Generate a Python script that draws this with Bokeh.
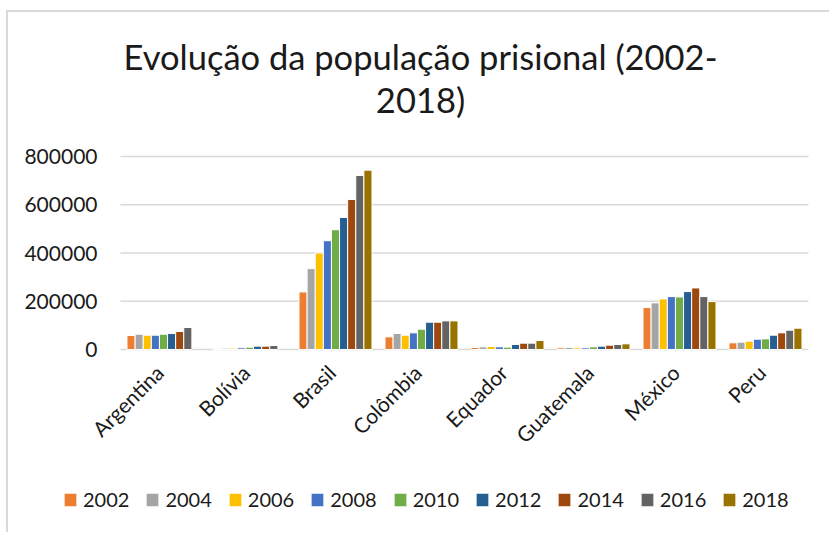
import math
from bokeh.plotting import figure
from bokeh.models import (ColumnDataSource, Range1d, Legend, LegendItem,
                          NumeralTickFormatter, FixedTicker, Label,
                          CustomJSTickFormatter)
from bokeh.transform import dodge
from bokeh.embed import file_html
from bokeh.resources import INLINE

nan = float("nan")

countries = ["Argentina", "Bolívia", "Brasil", "Colômbia", "Equador",
             "Guatemala", "México", "Peru"]
years = ["2002", "2004", "2006", "2008", "2010", "2012", "2014", "2016", "2018"]
yticks = [0, 200000, 400000, 600000, 800000]

v2002 = [58000, 4500, 238600, 52400, 8300, 6900, 173800, 27600]
v2004 = [63400, 5500, 335100, 66200, 11000, 8300, 193100, 30300]
v2006 = [59300, 5500, 400000, 59300, 12400, 6900, 209600, 34500]
v2008 = [59300, 7000, 451000, 69000, 11000, 6900, 219300, 42700]
v2010 = [63400, 9600, 496400, 84100, 9700, 11000, 217900, 44100]
v2012 = [66200, 13800, 547500, 113100, 20700, 13800, 240000, 59300]
v2014 = [74500, 13800, 622000, 113100, 26200, 17900, 255100, 69000]
v2016 = [91000, 16500, 721200, 118600, 26200, 20700, 219300, 80000]
v2018 = [nan, nan, 743300, 118600, 37200, 23400, 198600, 88300]

colors = ["#ED7D31", "#A5A5A5", "#FFC000", "#4472C4", "#70AD47",
          "#255E91", "#9E480E", "#636363", "#997300"]

title1 = "Evolução da população prisional (2002-"
title2 = "2018)"

series = [v2002, v2004, v2006, v2008, v2010, v2012, v2014, v2016, v2018]
n = len(countries)
data = {"xi": list(range(n)), "country": countries}
for y, vals in zip(years, series):
    data["y" + y] = vals
src = ColumnDataSource(data)

FONT = "Lato"
TXT = "#1a1a1a"
GRID = "#d9d9d9"

# layout (pixels) - the frame fills the whole figure
FRAME_W, FRAME_H = 821, 520
CAT_PX = 86            # width of one category slot
LEFT_PAD = 112         # frame left edge -> first category slot
RIGHT_PAD = 21
PLOT_H = 193           # pixel height of the 0..800000 band
ABOVE = 144            # frame top -> 800000 line
BELOW = FRAME_H - ABOVE - PLOT_H
YMAX = yticks[-1]
LABEL_SHIFT = 4 / CAT_PX    # rotated category labels sit a little left

x_range = Range1d(-0.5 - LEFT_PAD / CAT_PX, n - 0.5 + RIGHT_PAD / CAT_PX)
y_range = Range1d(-BELOW * YMAX / PLOT_H, YMAX + ABOVE * YMAX / PLOT_H)

p = figure(frame_width=FRAME_W, frame_height=FRAME_H, x_range=x_range,
           y_range=y_range, output_backend="svg", toolbar_location=None,
           min_border_left=0, min_border_right=0,
           min_border_top=0, min_border_bottom=0)
p.title.visible = False
p.outline_line_color = None
p.grid.visible = False

# horizontal gridlines across the category area only
p.segment(x0=-0.5, x1=n - 0.5, y0=yticks, y1=yticks,
          line_color=GRID, line_width=1.5)

p.yaxis.fixed_location = -0.5
p.yaxis.ticker = FixedTicker(ticks=yticks)
p.yaxis.formatter = NumeralTickFormatter(format="0")
p.yaxis.axis_line_color = None
p.yaxis.major_tick_line_color = None
p.yaxis.major_tick_out = 0
p.yaxis.minor_tick_line_color = None
p.yaxis.major_label_standoff = 23
p.yaxis.major_label_text_font = FONT
p.yaxis.major_label_text_font_size = "21px"
p.yaxis.major_label_text_color = TXT

p.xaxis.fixed_location = 0
p.xaxis.ticker = FixedTicker(ticks=[i - LABEL_SHIFT for i in range(n)])
p.xaxis.formatter = CustomJSTickFormatter(args=dict(names=countries),
                                          code="return names[Math.round(tick)];")
p.xaxis.axis_line_color = None
p.xaxis.major_tick_line_color = None
p.xaxis.major_tick_out = 0
p.xaxis.minor_tick_line_color = None
p.xaxis.major_label_orientation = math.pi / 4
p.xaxis.major_label_standoff = 19
p.xaxis.major_label_text_font = FONT
p.xaxis.major_label_text_font_size = "21px"
p.xaxis.major_label_text_color = TXT

w = 0.0943
items = []
for i, y in enumerate(years):
    r = p.vbar(x=dodge("xi", (i - 4) * w), top="y" + y,
               width=w, source=src, fill_color=colors[i], line_color="white",
               line_width=1)
    items.append(LegendItem(label=y, renderers=[r]))

# two-line title
for txt, ypos in ((title1, FRAME_H - 44), (title2, FRAME_H - 87)):
    p.add_layout(Label(x=412, y=ypos, x_units="screen", y_units="screen",
                       text=txt, text_align="center", text_baseline="middle",
                       text_font=FONT, text_font_size="34.5px", text_color=TXT))

legend = Legend(items=items, orientation="horizontal", location=(54, 21),
                label_text_font=FONT, label_text_font_size="20px",
                label_text_color=TXT, glyph_width=16, glyph_height=17,
                spacing=15, label_standoff=5, border_line_color=None,
                background_fill_alpha=0, margin=0, padding=0)
p.add_layout(legend, "center")

p.styles = {"border-left": "2px solid #d9d9d9", "border-top": "2px solid #d9d9d9",
            "margin-left": "6px", "margin-top": "10px"}

html = file_html(p, INLINE)
open("out.html", "w").write(html)
